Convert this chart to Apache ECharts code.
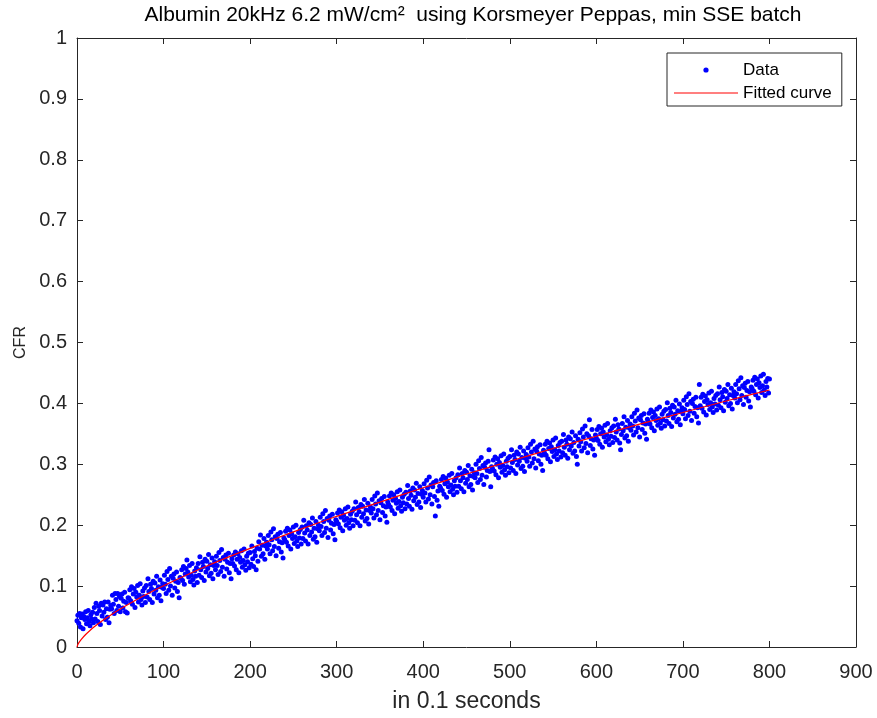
<!DOCTYPE html>
<html>
<head>
<meta charset="utf-8">
<script src="https://cdn.jsdelivr.net/npm/echarts@6/dist/echarts.min.js"></script>
<style>html,body{margin:0;padding:0;background:#fff;}#chart{width:877px;height:718px;}</style>
</head>
<body>
<div id="chart"></div>
<script>
// CFR measured each 0.1 s step, starting at t = 0 (thousandths)
const cfrMilli = [
43,52,39,55,33,48,54,30,50,45,58,38,48,60,42,35,53,46,57,40,
65,46,72,55,42,67,60,37,72,51,69,57,74,45,63,49,74,40,62,68,
63,85,70,55,88,78,60,88,67,83,58,80,87,64,75,90,58,73,56,81,
80,94,76,99,70,87,96,65,90,82,101,74,85,104,78,69,92,83,97,73,
101,82,112,91,78,103,96,73,108,87,105,93,116,81,99,85,110,76,98,104,
96,118,103,88,124,111,93,129,100,116,85,113,120,97,108,123,91,106,81,114,
113,127,109,132,103,120,129,143,123,115,134,107,118,137,111,102,125,116,130,106,
137,118,148,127,114,139,132,109,144,123,141,129,152,117,135,121,146,112,134,140,
127,149,134,119,155,142,124,160,131,147,116,144,151,128,139,154,122,137,112,145,
137,151,133,156,127,144,153,122,147,139,158,131,142,161,135,126,149,140,154,130,
155,136,166,145,132,157,150,127,162,141,173,161,184,149,167,153,178,144,166,172,
161,183,168,153,189,176,158,194,165,181,150,178,185,162,173,188,156,171,146,179,
176,190,172,195,166,183,192,161,186,178,197,170,181,200,174,165,188,179,193,169,
197,178,208,187,174,199,192,169,204,183,201,189,212,177,195,181,206,172,194,200,
191,213,198,183,219,206,188,224,195,211,180,208,215,192,203,218,186,201,176,209,
206,220,202,225,196,213,222,191,216,208,227,200,211,230,204,195,218,209,223,199,
227,208,238,217,204,229,222,199,234,213,231,219,242,207,225,211,236,202,224,230,
220,242,227,212,248,235,217,253,224,240,209,237,244,221,232,247,215,230,205,238,
234,248,230,253,224,241,250,219,244,236,255,228,239,258,232,223,246,237,251,227,
254,235,265,244,231,256,249,226,261,240,258,246,269,234,252,238,263,229,251,257,
246,268,253,238,274,261,243,279,250,266,235,263,270,247,215,273,241,256,231,264,
261,275,257,280,251,268,277,246,271,263,282,255,266,285,259,250,273,264,278,254,
283,264,294,273,260,285,278,255,290,269,287,275,298,263,281,267,292,258,280,286,
278,300,285,270,306,293,275,311,282,298,267,295,302,279,290,305,324,288,263,296,
293,307,289,312,283,300,309,278,303,295,314,287,298,317,291,282,305,296,310,286,
313,294,324,303,290,315,308,285,320,299,317,305,328,293,311,297,322,288,310,316,
305,327,312,297,333,320,302,338,309,325,294,322,329,306,317,332,300,315,290,323,
319,333,315,338,309,326,335,304,329,321,340,313,324,343,317,308,331,322,336,312,
338,319,349,328,315,340,333,310,345,324,342,330,353,318,336,322,347,313,300,341,
330,352,337,322,358,345,327,363,334,350,319,347,373,331,342,357,325,340,315,348,
343,357,339,362,333,350,359,328,353,345,364,337,348,367,341,332,355,346,360,336,
363,344,374,353,340,365,358,335,324,349,367,355,378,343,361,347,372,338,360,366,
356,378,363,348,384,371,353,389,360,376,345,373,380,357,368,383,351,366,341,374,
370,384,366,389,360,377,386,355,380,372,391,364,375,394,368,359,382,373,387,363,
390,371,401,380,367,392,385,362,397,376,394,382,405,370,388,374,399,365,387,393,
383,405,390,375,411,398,380,416,387,403,372,400,407,384,395,410,378,393,368,431,
396,410,392,415,386,403,412,381,406,398,417,390,401,420,394,385,408,399,413,389,
416,397,427,406,393,418,411,388,423,402,420,408,431,396,414,400,425,391,413,419,
409,431,416,401,437,424,406,442,413,429,398,426,433,410,421,436,404,419,394,427,
424,438,420,443,414,431,440,409,434,426,445,418,429,448,422,413,436,427,441,417,
440
];

// Fitted Korsmeyer-Peppas curve
const fitTime = [0, 1, 2, 3, 5, 10, 15, 20, 30, 40, 50, 75, 100, 150, 200, 250, 300, 350, 400, 450, 500, 550, 600, 650, 700, 750, 800];
const fitCFR  = [0, 0.0042, 0.0068, 0.0089, 0.0127, 0.0205, 0.0272, 0.0331, 0.0438, 0.0534, 0.0623, 0.0824, 0.1006, 0.133, 0.162, 0.189, 0.2146, 0.238, 0.2615, 0.284, 0.305, 0.326, 0.346, 0.366, 0.385, 0.404, 0.422];

const seriesNames = ['Data', 'Fitted curve'];
const titleText = 'Albumin 20kHz 6.2 mW/cm\u00B2  using Korsmeyer Peppas, min SSE batch';
const xName = 'in 0.1 seconds';
const yName = 'CFR';

const FONT = '"Liberation Sans", Arial, Helvetica, sans-serif';
const AX = '#262626';

function svgIcon(inner) {
  const svg = '<svg xmlns="http://www.w3.org/2000/svg" width="64" height="18" viewBox="0 0 64 18">' + inner + '</svg>';
  return 'image://data:image/svg+xml;charset=utf-8,' + encodeURIComponent(svg);
}
const dotIcon = svgIcon('<circle cx="32" cy="9" r="2.6" fill="#0000ff"/>');
const lineIcon = svgIcon('<line x1="0" y1="9" x2="64" y2="9" stroke="#ff0000" stroke-width="1.2"/>');

const chart = echarts.init(document.getElementById('chart'), null, {renderer: 'canvas'});

const tickStyle = {show: true, inside: true, length: 6, lineStyle: {color: AX, width: 1}};
const lineStyle = {show: true, onZero: false, lineStyle: {color: AX, width: 1}};

chart.setOption({
  animation: false,
  backgroundColor: '#ffffff',
  title: {
    text: titleText,
    left: 468, textAlign: 'center', top: 0,
    textStyle: {fontFamily: FONT, fontSize: 21, fontWeight: 'normal', color: '#000'}
  },
  legend: {
    orient: 'vertical',
    left: 667, top: 53,
    padding: [8, 10, 4, 7],
    itemWidth: 64, itemHeight: 18, itemGap: 5,
    borderColor: AX, borderWidth: 1,
    backgroundColor: '#fff',
    textStyle: {fontFamily: FONT, fontSize: 17, color: '#000'},
    data: [{name: seriesNames[0], icon: dotIcon}, {name: seriesNames[1], icon: lineIcon}]
  },
  grid: {left: 77, right: 21, top: 38, bottom: 67, containLabel: false},
  xAxis: [{
    type: 'value', min: 0, max: 900, interval: 100, position: 'bottom',
    name: xName, nameLocation: 'middle', nameGap: 43,
    nameTextStyle: {fontFamily: FONT, fontSize: 23, color: AX},
    axisLine: lineStyle, axisTick: tickStyle, splitLine: {show: false},
    axisLabel: {fontFamily: FONT, fontSize: 20, color: AX, margin: 15}
  }, {
    type: 'value', min: 0, max: 900, interval: 100, position: 'top',
    axisLine: lineStyle, axisTick: tickStyle, splitLine: {show: false},
    axisLabel: {show: false}
  }],
  yAxis: [{
    type: 'value', min: 0, max: 1, interval: 0.1, position: 'left',
    name: yName, nameLocation: 'middle', nameGap: 47, nameRotate: 90,
    nameTextStyle: {fontFamily: FONT, fontSize: 16, color: AX},
    axisLine: lineStyle, axisTick: tickStyle, splitLine: {show: false},
    axisLabel: {fontFamily: FONT, fontSize: 20, color: AX, margin: 10}
  }, {
    type: 'value', min: 0, max: 1, interval: 0.1, position: 'right',
    axisLine: lineStyle, axisTick: tickStyle, splitLine: {show: false},
    axisLabel: {show: false}
  }],
  series: [{
    name: seriesNames[0],
    type: 'scatter',
    xAxisIndex: 0, yAxisIndex: 0,
    symbol: 'circle', symbolSize: 5,
    itemStyle: {color: '#0000ff', opacity: 1},
    data: cfrMilli.map((v, i) => [i, v / 1000]),
    z: 2
  }, {
    name: seriesNames[1],
    type: 'line',
    xAxisIndex: 0, yAxisIndex: 0,
    symbol: 'none', smooth: 0.2,
    lineStyle: {color: '#ff0000', width: 1.2},
    itemStyle: {color: '#ff0000'},
    data: fitTime.map((t, i) => [t, fitCFR[i]]),
    z: 3
  }]
});
</script>
</body>
</html>
